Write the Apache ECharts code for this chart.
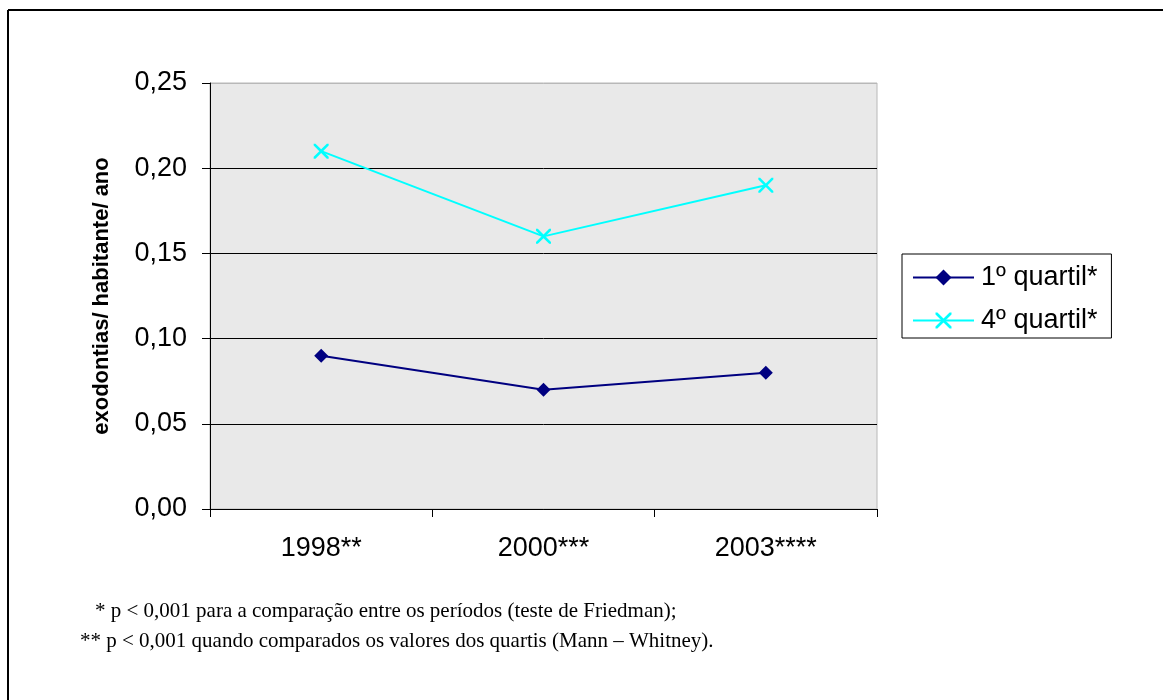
<!DOCTYPE html>
<html>
<head>
<meta charset="utf-8">
<script src="https://cdn.jsdelivr.net/npm/echarts@6/dist/echarts.min.js"></script>
<style>html,body{margin:0;padding:0;background:#fff;}#c{width:1163px;height:700px;}</style>
</head>
<body>
<div id="c"></div>
<script>
const categories = ['1998**', '2000***', '2003****'];
const quartil1 = [0.09, 0.07, 0.08];
const quartil4 = [0.21, 0.16, 0.19];
const seriesNames = ['1º quartil*', '4º quartil*'];
const yTicks = { min: 0, max: 0.25, interval: 0.05 };
const footnotes = [
  '* p < 0,001 para a comparação entre os períodos (teste de Friedman);',
  '** p < 0,001 quando comparados os valores dos quartis (Mann \u2013 Whitney).'
];

const xSymbol = 'path://M0,0 L1.2,0 L5,3.8 L8.8,0 L10,0 L10,1.2 L6.2,5 L10,8.8 L10,10 L8.8,10 L5,6.2 L1.2,10 L0,10 L0,8.8 L3.8,5 L0,1.2 Z';
const sans = '"Liberation Sans", Arial, sans-serif';

const chart = echarts.init(document.getElementById('c'), null, { renderer: 'canvas' });
chart.setOption({
  animation: false,
  backgroundColor: '#ffffff',
  grid: {
    left: 210, right: 286, top: 83, bottom: 191,
    show: true, backgroundColor: '#e9e9e9', borderColor: '#b8b8b8', borderWidth: 1
  },
  xAxis: {
    type: 'category',
    data: categories,
    boundaryGap: true,
    axisLine: { lineStyle: { color: '#000', width: 1 } },
    axisTick: { show: true, length: 8, alignWithLabel: false, lineStyle: { color: '#000' } },
    axisLabel: { color: '#000', fontSize: 27, fontFamily: sans, margin: 26 }
  },
  yAxis: {
    type: 'value',
    min: yTicks.min, max: yTicks.max, interval: yTicks.interval,
    name: 'exodontias/ habitante/ ano',
    nameLocation: 'middle',
    nameGap: 97,
    nameRotate: 90,
    nameTextStyle: { color: '#000', fontSize: 22, fontWeight: 'bold', fontFamily: sans },
    axisLine: { show: true, lineStyle: { color: '#000', width: 1 } },
    axisTick: { show: true, length: 8, lineStyle: { color: '#000' } },
    axisLabel: {
      color: '#000', fontSize: 27, fontFamily: sans, margin: 23,
      formatter: v => v.toFixed(2).replace('.', ',')
    },
    splitLine: { show: true, lineStyle: { color: ['#000', '#000', '#000', '#000', '#000', '#b8b8b8'], width: 1 } }
  },
  legend: {
    orient: 'vertical',
    left: 902, top: 254,
    padding: [10, 14, 4, 10],
    itemGap: 16,
    itemWidth: 61, itemHeight: 20,
    borderColor: '#000', borderWidth: 1,
    backgroundColor: '#fff',
    textStyle: { color: '#000', fontSize: 27, fontFamily: sans, padding: [0, 0, 0, 2] },
    data: seriesNames
  },
  series: [
    {
      name: seriesNames[0], type: 'line', data: quartil1,
      symbol: 'diamond', symbolSize: 14,
      lineStyle: { color: '#000080', width: 2 },
      itemStyle: { color: '#000080' }
    },
    {
      name: seriesNames[1], type: 'line', data: quartil4,
      symbol: xSymbol, symbolSize: 15,
      lineStyle: { color: '#00ffff', width: 2 },
      itemStyle: { color: '#00ffff' }
    }
  ],
  graphic: [
    { type: 'line', shape: { x1: 8, y1: 10, x2: 1163, y2: 10 }, style: { stroke: '#000', lineWidth: 2 } },
    { type: 'line', shape: { x1: 8, y1: 10, x2: 8, y2: 700 }, style: { stroke: '#000', lineWidth: 2 } },
    { type: 'text', left: 95, top: 601, style: { text: footnotes[0], fill: '#000', font: '21px "Liberation Serif", "Times New Roman", serif' } },
    { type: 'text', left: 80, top: 631, style: { text: footnotes[1], fill: '#000', font: '21px "Liberation Serif", "Times New Roman", serif' } }
  ]
});
</script>
</body>
</html>
